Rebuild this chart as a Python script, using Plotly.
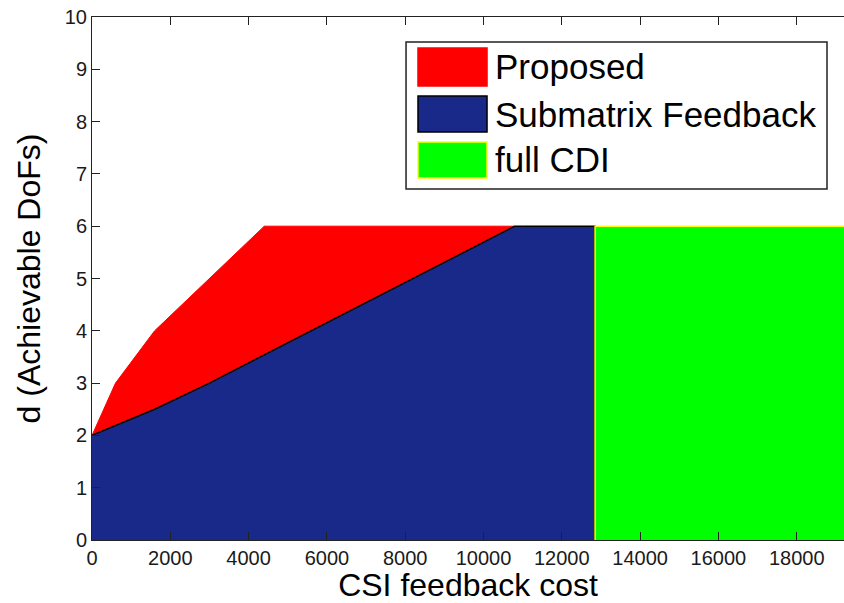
import plotly.graph_objects as go

# Achievable DoFs versus CSI feedback cost
proposed_cost = [0, 600, 1600, 3000, 4400, 10800]
proposed_dof = [2, 3, 4, 5, 6, 6]

submatrix_cost = [0, 1600, 3000, 5600, 8200, 10800, 12850, 12850]
submatrix_dof = [2, 2.5, 3, 4, 5, 6, 6, 0]

full_cdi_cost = [12850, 12850, 19400, 19400]
full_cdi_dof = [0, 6, 6, 0]

x_ticks = [0, 2000, 4000, 6000, 8000, 10000, 12000, 14000, 16000, 18000]
y_ticks = list(range(0, 11))

legend_names = ["Proposed", "Submatrix Feedback", "full CDI"]

RED = "#ff0000"
BLUE = "#18298a"
GREEN = "#00ff00"
YELLOW = "#ffff00"

TICK_FONT = dict(family="Liberation Sans Narrow, Arial Narrow, Liberation Sans, Arial",
                 size=20, color="#1a1a1a")
TITLE_FONT = dict(family="Liberation Sans, Arial", size=32, color="black")

fig = go.Figure()

fig.add_trace(go.Scatter(
    x=proposed_cost, y=proposed_dof, mode="lines", fill="tozeroy",
    fillcolor=RED, line=dict(color=RED, width=1), name=legend_names[0],
))
fig.add_trace(go.Scatter(
    x=submatrix_cost, y=submatrix_dof, mode="lines", fill="tozeroy",
    fillcolor=BLUE, line=dict(color="black", width=1.5), name=legend_names[1],
))
fig.add_trace(go.Scatter(
    x=full_cdi_cost, y=full_cdi_dof, mode="lines", fill="toself",
    fillcolor=GREEN, line=dict(color=YELLOW, width=1.5), name=legend_names[2],
))

# Legend box drawn in paper coordinates with large swatches
shapes = [dict(type="rect", xref="paper", yref="paper",
               x0=0.4176, x1=0.9774, y0=0.6711, y1=0.9522,
               line=dict(color="#222222", width=1.5), fillcolor="white", layer="above")]
swatches = [
    (0.8681, 0.9407, RED, RED),
    (0.7801, 0.8489, BLUE, "black"),
    (0.6922, 0.7610, GREEN, YELLOW),
]
for y0, y1, fc, lc in swatches:
    shapes.append(dict(type="rect", xref="paper", yref="paper",
                       x0=0.4335, x1=0.5253, y0=y0, y1=y1,
                       line=dict(color=lc, width=1.5), fillcolor=fc, layer="above"))

annotations = []
for name, yc in zip(legend_names, [0.9044, 0.8145, 0.7266]):
    annotations.append(dict(text=name, xref="paper", yref="paper", x=0.5332, y=yc,
                            xanchor="left", yanchor="middle", showarrow=False,
                            font=dict(family="Liberation Sans, Arial", size=35, color="black")))

fig.update_layout(
    width=844, height=603,
    margin=dict(l=92, r=0, t=17, b=63),
    paper_bgcolor="white", plot_bgcolor="white",
    showlegend=False,
    shapes=shapes,
    annotations=annotations,
    xaxis=dict(
        range=[0, 19208], tickvals=x_ticks, ticktext=[str(v) for v in x_ticks],
        ticks="inside", ticklen=8, tickcolor="#222222", tickwidth=1,
        showline=True, linecolor="#222222", linewidth=1, mirror="ticks",
        showgrid=False, zeroline=False, tickfont=TICK_FONT,
        title=dict(text="CSI feedback cost", font=TITLE_FONT, standoff=7),
    ),
    yaxis=dict(
        range=[0, 10], tickvals=y_ticks, ticktext=[str(v) for v in y_ticks],
        ticks="inside", ticklen=8, tickcolor="#222222", tickwidth=1,
        showline=True, linecolor="#222222", linewidth=1,
        showgrid=False, zeroline=False, tickfont=TICK_FONT,
        title=dict(text="d (Achievable DoFs)", font=TITLE_FONT, standoff=14),
    ),
)

fig.write_html("out.html")
